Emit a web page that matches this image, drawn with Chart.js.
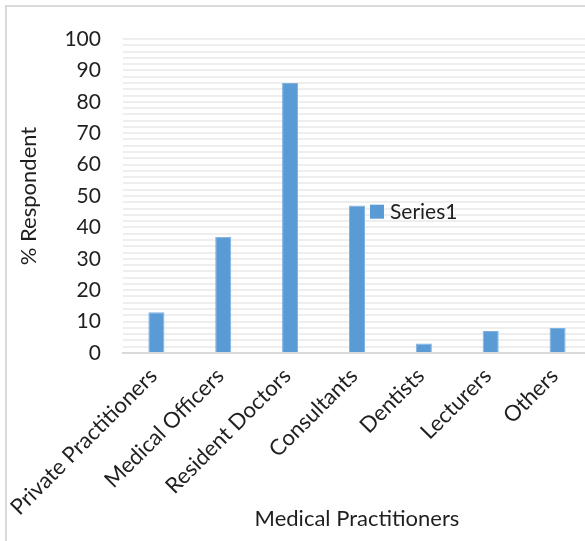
<!DOCTYPE html>
<html>
<head>
<meta charset="utf-8">
<script src="https://cdn.jsdelivr.net/npm/chart.js@4"></script>
<style>
  html, body { margin: 0; padding: 0; background: #fff; overflow: hidden; }
  #frame {
    position: absolute; left: 5px; top: 5px;
    width: 640px; height: 600px;
    border: 2px solid #d9d9d9;
  }
  #wrap { position: absolute; left: 0; top: 0; width: 591px; height: 541px; }
</style>
</head>
<body>
<div id="frame"></div>
<div id="wrap"><canvas id="chart"></canvas></div>
<script>
// categories and percentages
const categories = ['Private Practitioners', 'Medical Officers', 'Resident Doctors', 'Consultants', 'Dentists', 'Lecturers', 'Others'];
const series1 = [13, 37, 86, 47, 3, 7, 8];
const yTicks = [0, 10, 20, 30, 40, 50, 60, 70, 80, 90, 100];

const FONT = 'Lato, "Open Sans", sans-serif';
const TEXT = '#1f1f1f';
const BAR = '#5b9bd5';

// legend sits inside the plot, just right of the Consultants bar
const floatingLegend = {
  id: 'floatingLegend',
  afterDatasetsDraw(chart) {
    const { ctx, scales } = chart;
    const x = scales.x.getPixelForValue(3) + 13;
    const y = scales.y.getPixelForValue(45);
    ctx.save();
    ctx.fillStyle = BAR;
    ctx.fillRect(x, y - 7, 14, 14);
    ctx.fillStyle = TEXT;
    ctx.font = '21px ' + FONT;
    ctx.textBaseline = 'middle';
    ctx.fillText('Series1', x + 20, y + 1);
    ctx.restore();
  }
};

new Chart(document.getElementById('chart'), {
  type: 'bar',
  data: {
    labels: categories,
    datasets: [{
      label: 'Series1',
      data: series1,
      backgroundColor: BAR,
      borderColor: '#7fb2df',
      borderWidth: 1,
      barPercentage: 0.5,
      categoryPercentage: 0.48
    }]
  },
  options: {
    responsive: true,
    maintainAspectRatio: false,
    animation: false,
    layout: { padding: { left: 16, top: 39, right: 0, bottom: 9 } },
    plugins: {
      legend: { display: false },
      tooltip: { enabled: false }
    },
    scales: {
      x: {
        grid: { display: false },
        border: { color: '#d9d9d9', width: 2 },
        ticks: {
          color: TEXT,
          font: { family: FONT, size: 22 },
          minRotation: 45,
          maxRotation: 45,
          labelOffset: -3,
          padding: 2
        },
        title: {
          display: true,
          text: 'Medical Practitioners',
          color: TEXT,
          font: { family: FONT, size: 22 },
          padding: { top: -17, bottom: 0 }
        }
      },
      y: {
        min: 0,
        max: 100,
        border: { display: false },
        grid: {
          color: '#eeeeee',
          lineWidth: 2,
          drawTicks: false
        },
        ticks: {
          stepSize: 2,
          autoSkip: false,
          padding: 22,
          color: TEXT,
          font: { family: FONT, size: 21 },
          callback: v => yTicks.includes(v) ? v : ''
        },
        title: {
          display: true,
          text: '% Respondent',
          color: TEXT,
          font: { family: FONT, size: 22 },
          padding: { top: 0, bottom: 0 }
        }
      }
    }
  },
  plugins: [floatingLegend]
});
</script>
</body>
</html>
